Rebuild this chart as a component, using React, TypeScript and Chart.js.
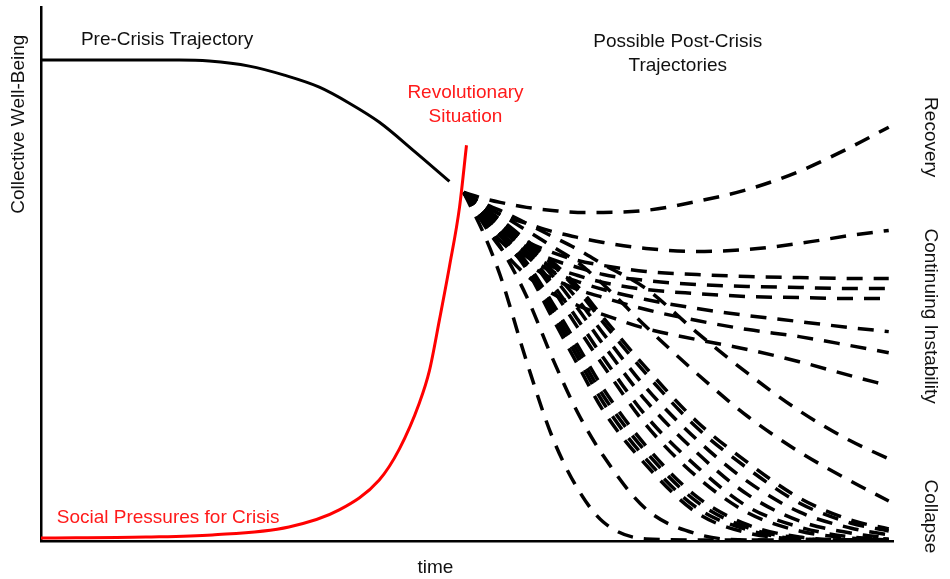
import React, { useEffect, useRef } from 'react';
import { Chart, registerables } from 'chart.js';

Chart.register(...registerables);

// ---- Pre-crisis trajectory (collective well-being over time) ----
const preCrisisTime = [0, 16.22, 19.74, 24.44, 28.55, 32.67, 36.19, 39.72, 43.83, 47.94];
const preCrisisWellBeing = [90.06, 90.06, 89.87, 88.93, 87.24, 84.99, 81.99, 78.42, 72.98, 67.35];

// ---- Social pressures for crisis ----
const pressureTime = [0, 12.3, 20.1, 29.1, 35.0, 39.7, 42.07, 44.42, 45.59, 46.77, 47.94, 49.12, 49.94];
const pressureLevel = [0.56, 0.75, 1.13, 2.63, 5.82, 11.44, 17.26, 25.89, 31.89, 41.46, 51.41, 62.48, 74.11];

// ---- Possible post-crisis trajectories (shared time grid) ----
const postCrisisTime = [49.6, 51.9, 53.9, 57.0, 60.0, 63.0, 66.0, 71.0, 77.0, 83.0, 89.0, 95.0, 99.5];

const recoveryPath = [65.29, 64.17, 63.42, 62.48, 61.91, 61.54, 61.54, 61.91, 63.6, 65.85, 69.23, 73.73, 77.49];
const reboundPath = [65.29, 63.04, 61.16, 59.48, 57.97, 56.85, 55.91, 54.78, 54.22, 54.6, 55.72, 57.22, 58.16];
const instability1 = [65.29, 61.54, 59.1, 56.1, 54.04, 52.53, 51.6, 50.47, 49.91, 49.53, 49.34, 49.16, 49.16];
const instability2 = [65.29, 61.16, 58.35, 54.97, 52.72, 51.22, 49.91, 48.78, 48.03, 47.66, 47.47, 47.28, 47.28];
const instability3 = [65.29, 60.79, 57.6, 54.04, 51.41, 49.72, 48.41, 47.09, 46.34, 45.78, 45.59, 45.4, 45.4];
const instability4 = [65.29, 60.6, 57.22, 53.28, 50.47, 48.59, 47.09, 45.22, 43.53, 42.21, 41.09, 39.96, 39.21];
const instability5 = [65.29, 60.04, 56.29, 51.97, 49.16, 47.09, 45.59, 43.34, 41.28, 39.59, 38.27, 36.59, 35.27];
const instability6 = [65.29, 59.48, 54.97, 49.72, 46.34, 44.09, 42.4, 39.78, 37.71, 35.84, 33.58, 30.96, 29.08];
const decline1 = [65.29, 63.23, 61.91, 59.48, 57.04, 54.6, 51.78, 47.28, 39.02, 31.33, 24.39, 18.76, 15.38];
const decline2 = [65.29, 62.85, 61.16, 58.16, 55.16, 52.16, 48.03, 40.15, 31.33, 23.27, 16.7, 11.26, 7.5];
const decline3 = [65.29, 62.48, 60.23, 56.29, 52.35, 47.66, 41.84, 32.46, 22.33, 14.63, 8.07, 3.94, 2.25];
const collapse11 = [65.29, 62.48, 60.04, 56.1, 51.78, 46.91, 40.9, 31.33, 21.2, 13.51, 7.13, 3.38, 1.88];
const collapse10 = [65.29, 62.29, 59.66, 55.54, 50.66, 45.22, 38.84, 28.71, 18.95, 11.07, 5.44, 2.44, 1.13];
const collapse9 = [65.29, 62.1, 59.29, 54.97, 49.72, 43.53, 36.77, 26.27, 16.51, 8.63, 3.75, 1.5, 0.56];
const collapse8 = [65.29, 61.91, 58.91, 54.22, 48.22, 41.46, 34.33, 23.45, 13.88, 6.38, 2.63, 0.75, 0.38];
const collapse7 = [65.29, 61.73, 58.72, 53.66, 47.28, 39.96, 32.83, 21.76, 12.01, 5.25, 1.88, 0.56, 0.19];
const collapse6 = [65.29, 61.35, 57.97, 52.16, 44.65, 36.59, 28.52, 17.82, 8.26, 3.0, 0.75, 0.19, 0.19];
const collapse5 = [65.29, 61.35, 57.79, 51.6, 43.71, 35.46, 27.2, 16.7, 7.32, 2.44, 0.56, 0.19, 0.19];
const collapse4 = [65.29, 61.16, 57.6, 51.22, 42.78, 34.33, 25.89, 15.38, 6.19, 2.06, 0.38, 0.19, 0.19];
const collapse3 = [65.29, 60.98, 57.22, 50.84, 41.84, 33.02, 24.39, 14.26, 5.25, 1.5, 0.38, 0.19, 0.19];
const collapse2 = [65.29, 60.04, 55.16, 45.78, 34.33, 24.02, 15.95, 6.0, 1.31, 0.19, 0.19, 0.19, 0.19];
const collapse1 = [65.29, 57.79, 49.72, 33.58, 19.51, 9.76, 3.56, 0.38, 0.19, 0.19, 0.19, 0.19, 0.19];

const postCrisisPaths = [
  recoveryPath, reboundPath,
  instability1, instability2, instability3, instability4, instability5, instability6,
  decline1, decline2, decline3,
  collapse11, collapse10, collapse9, collapse8, collapse7, collapse6,
  collapse5, collapse4, collapse3, collapse2, collapse1,
];

const FONT = '19px "Liberation Sans", Arial, sans-serif';

const zip = (xs: number[], ys: number[]) => xs.map((x, i) => ({ x, y: ys[i] }));

const textPlugin = {
  id: 'figureText',
  afterDraw(chart: any) {
    const { ctx, chartArea, scales } = chart;
    const xs = scales.x;
    const ys = scales.y;
    ctx.save();
    ctx.font = FONT;
    ctx.textAlign = 'center';
    ctx.textBaseline = 'alphabetic';
    const put = (t: string, xv: number, yv: number, color: string) => {
      ctx.fillStyle = color;
      ctx.fillText(t, xs.getPixelForValue(xv), ys.getPixelForValue(yv));
    };
    const dark = '#111111';
    const red = '#ff1a1a';
    put('Pre-Crisis Trajectory', 14.8, 92.87, dark);
    put('Possible Post-Crisis', 74.74, 92.5, dark);
    put('Trajectories', 74.74, 87.99, dark);
    put('Revolutionary', 49.82, 82.93, red);
    put('Situation', 49.82, 78.4, red);
    put('Social Pressures for Crisis', 14.92, 3.38, red);

    // x-axis title
    ctx.fillStyle = dark;
    ctx.fillText('time', xs.getPixelForValue(46.3), chartArea.bottom + 32);

    // y-axis title (rotated)
    ctx.save();
    ctx.translate(chartArea.left - 17, ys.getPixelForValue(78.05));
    ctx.rotate(-Math.PI / 2);
    ctx.fillText('Collective Well-Being', 0, 0);
    ctx.restore();

    // right-side outcome labels (rotated)
    const side = (t: string, yv: number) => {
      ctx.save();
      ctx.translate(chartArea.right + 32, ys.getPixelForValue(yv));
      ctx.rotate(Math.PI / 2);
      ctx.fillText(t, 0, 0);
      ctx.restore();
    };
    side('Recovery', 75.61);
    side('Continuing Instability', 42.11);
    side('Collapse', 4.6);
    ctx.restore();
  },
};

export default function App() {
  const canvasRef = useRef<HTMLCanvasElement | null>(null);

  useEffect(() => {
    const canvas = canvasRef.current;
    if (!canvas) return;

    const dashed = postCrisisPaths.map((ys) => ({
      data: zip(postCrisisTime, ys),
      borderColor: '#000000',
      borderWidth: 3.5,
      borderDash: [16, 11],
      borderCapStyle: 'butt' as const,
      pointRadius: 0,
      cubicInterpolationMode: 'monotone' as const,
      clip: false as any,
    }));

    const chart = new Chart(canvas, {
      type: 'line',
      data: {
        datasets: [
          {
            data: zip(pressureTime, pressureLevel),
            borderColor: '#ff0000',
            borderWidth: 3,
            pointRadius: 0,
            cubicInterpolationMode: 'monotone',
            clip: false as any,
          },
          {
            data: zip(preCrisisTime, preCrisisWellBeing),
            borderColor: '#000000',
            borderWidth: 3,
            pointRadius: 0,
            cubicInterpolationMode: 'monotone',
          },
          ...dashed,
        ] as any,
      },
      options: {
        animation: false,
        responsive: false,
        maintainAspectRatio: false,
        layout: { padding: { left: 41, right: 57, top: 7, bottom: 38 } },
        plugins: { legend: { display: false }, tooltip: { enabled: false } },
        scales: {
          x: {
            type: 'linear',
            min: 0,
            max: 100,
            grid: { display: false, drawTicks: false },
            border: { display: true, color: '#000000', width: 2.5 },
            ticks: { display: false },
          },
          y: {
            type: 'linear',
            min: 0,
            max: 100,
            grid: { display: false, drawTicks: false },
            border: { display: true, color: '#000000', width: 2.5 },
            ticks: { display: false },
          },
        },
      },
      plugins: [textPlugin],
    });

    return () => chart.destroy();
  }, []);

  return (
    <div style={{ position: 'absolute', left: 0, top: 0, width: 950, height: 579, background: '#ffffff' }}>
      <canvas ref={canvasRef} width={950} height={579} style={{ display: 'block' }} />
    </div>
  );
}
